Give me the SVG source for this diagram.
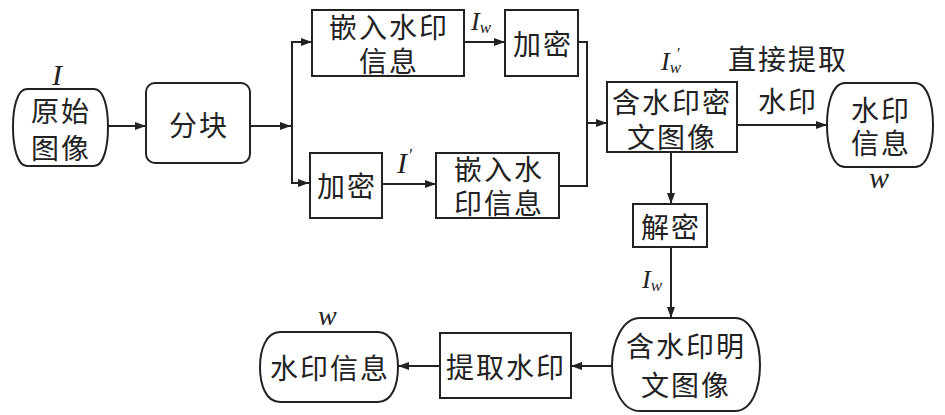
<svg xmlns="http://www.w3.org/2000/svg" width="945" height="415" viewBox="0 0 945 415">
<style>
.box{fill:#fff;stroke:#222;stroke-width:2}
.cn{font-family:"Noto Sans CJK SC","Noto Sans CJK JP",sans-serif;font-size:28px;fill:#222;text-anchor:middle;dominant-baseline:central;letter-spacing:2px}
.m{font-family:"Liberation Serif",serif;font-style:italic;font-weight:normal;fill:#222}
.ln{fill:none;stroke:#222;stroke-width:2}
</style>
<defs>
<marker id="ah" markerWidth="11" markerHeight="8" refX="11" refY="4" orient="auto" markerUnits="userSpaceOnUse">
<path d="M0,0 L11,4 L0,8 Z" fill="#222"/>
</marker>
</defs>
<rect width="945" height="415" fill="#fff"/>
<g id="connectors">
<line class="ln" x1="108" y1="126" x2="146" y2="126" marker-end="url(#ah)"/>
<line class="ln" x1="250" y1="126" x2="291" y2="126" marker-end="url(#ah)"/>
<polyline class="ln" points="311,42 292,42 292,183 309,183" marker-end="url(#ah)"/>
<line class="ln" x1="292" y1="42" x2="312" y2="42" marker-end="url(#ah)"/>
<line class="ln" x1="464" y1="42" x2="505" y2="42" marker-end="url(#ah)"/>
<line class="ln" x1="382" y1="184" x2="436" y2="184" marker-end="url(#ah)"/>
<polyline class="ln" points="578,42 587,42 587,186 559,186"/>
<line class="ln" x1="587" y1="123" x2="607" y2="123" marker-end="url(#ah)"/>
<line class="ln" x1="737" y1="125" x2="827" y2="125" marker-end="url(#ah)"/>
<line class="ln" x1="671" y1="152" x2="671" y2="204" marker-end="url(#ah)"/>
<line class="ln" x1="671" y1="247" x2="671" y2="318" marker-end="url(#ah)"/>
<line class="ln" x1="612" y1="366" x2="571" y2="366" marker-end="url(#ah)"/>
<line class="ln" x1="440" y1="366" x2="398" y2="366" marker-end="url(#ah)"/>
</g>
<g id="src">
<path class="box" d="M27,89 H94 C104,89 108,108 108,127 C108,146 104,166 94,166 H27 C17,166 13,146 13,127 C13,108 17,89 27,89 Z"/>
<text class="cn" x="61" y="110">原始</text>
<text class="cn" x="61" y="147">图像</text>
<text class="m" x="52" y="85" font-size="30">I</text>
</g>
<g id="split">
<rect class="box" x="146" y="83" width="104" height="80" rx="9"/>
<text class="cn" x="199" y="124">分块</text>
</g>
<g id="embed1">
<rect class="box" x="312" y="10" width="152" height="66"/>
<text class="cn" x="389" y="26">嵌入水印</text>
<text class="cn" x="389" y="60">信息</text>
</g>
<g id="enc1">
<rect class="box" x="505" y="10" width="73" height="66"/>
<text class="cn" x="543" y="43">加密</text>
</g>
<g id="enc2">
<rect class="box" x="310" y="153" width="72" height="65"/>
<text class="cn" x="347" y="185">加密</text>
</g>
<g id="embed2">
<rect class="box" x="436" y="153" width="123" height="65"/>
<text class="cn" x="499" y="168">嵌入水</text>
<text class="cn" x="499" y="202">印信息</text>
</g>
<g id="labels">
<text class="m" x="471" y="30" font-size="26">I<tspan font-size="17" dy="3">w</tspan></text>
<text class="m" x="397" y="173" font-size="30">I<tspan font-size="18" dx="1" dy="-11">′</tspan></text>
<text class="m" x="661" y="70" font-size="26">I<tspan font-size="17" dy="3">w</tspan><tspan font-size="16" dx="-5" dy="-14">′</tspan></text>
<text class="m" x="642" y="288" font-size="26">I<tspan font-size="17" dy="3">w</tspan></text>
</g>
<g id="cipherimg">
<rect class="box" x="607" y="82" width="130" height="70"/>
<text class="cn" x="672" y="101">含水印密</text>
<text class="cn" x="672" y="136">文图像</text>
</g>
<g id="direct">
<text class="cn" x="788" y="58">直接提取</text>
<text class="cn" x="788" y="100">水印</text>
</g>
<g id="wm1">
<path class="box" d="M845,83 H915 C928,83 933,105 933,125 C933,145 928,167 915,167 H845 C832,167 827,145 827,125 C827,105 832,83 845,83 Z"/>
<text class="cn" x="881" y="109">水印</text>
<text class="cn" x="881" y="142">信息</text>
<text class="m" x="869" y="188" font-size="30">w</text>
</g>
<g id="dec">
<rect class="box" x="633" y="204" width="74" height="43"/>
<text class="cn" x="671" y="226">解密</text>
</g>
<g id="plainimg">
<path class="box" d="M640,318 H735 C752,318 760,343 760,365 C760,388 752,411 735,411 H640 C622,411 612,388 612,365 C612,343 622,318 640,318 Z"/>
<text class="cn" x="686" y="345">含水印明</text>
<text class="cn" x="686" y="384">文图像</text>
</g>
<g id="extract">
<rect class="box" x="440" y="333" width="131" height="65"/>
<text class="cn" x="506" y="366">提取水印</text>
</g>
<g id="wm2">
<path class="box" d="M280,332 H378 C392,332 398,350 398,367 C398,385 392,402 378,402 H280 C266,402 260,385 260,367 C260,350 266,332 280,332 Z"/>
<text class="cn" x="330" y="367">水印信息</text>
<text class="m" x="318" y="325" font-size="28">w</text>
</g>
</svg>
